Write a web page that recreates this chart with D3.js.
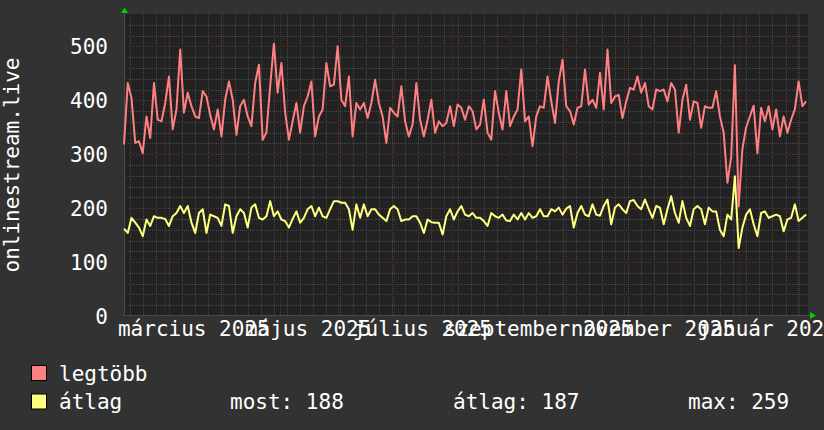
<!DOCTYPE html>
<html>
<head>
<meta charset="utf-8">
<script src="https://cdn.jsdelivr.net/npm/d3@7"></script>
<style>
  html, body { margin: 0; padding: 0; background: #323232; }
  svg { display: block; font-family: "DejaVu Sans Mono", monospace; }
</style>
</head>
<body>
<svg id="chart" width="824" height="430"></svg>
<script>
// one sample every 2 days, starting at the left edge of the graph
const startDay = "2025-02-07";
const endDay = "2026-02-07";
const stepDays = 2;

const legtobb = [
  318, 432, 404, 321, 324, 302, 370, 330, 432, 364, 361, 395, 444, 346, 383, 494, 377, 414, 389, 370,
  367, 417, 407, 373, 346, 383, 333, 401, 435, 401, 336, 389, 401, 370, 352, 432, 466,
  327, 340, 426, 505, 414, 469, 377, 327, 361, 395, 340, 389, 407, 435, 333, 370, 383, 469, 426,
  429, 500, 401, 389, 444, 333, 395, 383, 395, 367, 395, 438, 395, 370, 321, 386, 377, 370,
  426, 361, 333, 355, 432, 364, 333, 364, 401, 340, 361, 352, 358, 389, 352, 392, 386, 364, 389,
  380, 346, 355, 401, 340, 327, 417, 377, 346, 417, 352, 370, 383, 457, 361, 370, 315,
  370, 389, 386, 444, 398, 358, 435, 475, 389, 380, 355, 386, 389, 457, 392, 401, 386, 451, 383,
  494, 395, 407, 410, 367, 398, 423, 420, 444, 414, 432, 389, 383, 420, 417, 420, 398, 432,
  420, 340, 401, 429, 364, 398, 395, 349, 389, 386, 386, 417, 370, 340, 247, 295, 465, 203, 310,
  350, 370, 390, 302, 386, 361, 389, 346, 383, 333, 370, 340, 364, 383, 435, 389, 398
];

const atlag = [
  162, 154, 182, 173, 164, 148, 179, 167, 185, 182, 182, 180, 167, 185, 191, 204, 191, 204, 173, 154,
  191, 198, 154, 188, 185, 182, 167, 207, 204, 154, 185, 198, 191, 164, 201, 207, 182,
  179, 185, 213, 185, 194, 179, 176, 164, 180, 194, 173, 182, 198, 204, 185, 201, 185, 182, 198,
  213, 213, 210, 210, 198, 160, 207, 182, 207, 185, 198, 198, 188, 182, 176, 198, 204, 198,
  176, 179, 179, 185, 185, 173, 154, 179, 174, 173, 173, 151, 185, 198, 179, 194, 204, 188, 185,
  191, 182, 182, 176, 167, 191, 185, 182, 188, 177, 176, 188, 179, 191, 179, 191, 182,
  185, 198, 185, 185, 198, 194, 201, 188, 199, 204, 164, 191, 204, 188, 185, 207, 188, 186, 204,
  216, 170, 201, 207, 198, 191, 213, 215, 204, 198, 216, 198, 182, 204, 201, 170, 198, 222,
  191, 173, 213, 182, 167, 198, 204, 198, 170, 201, 194, 194, 160, 148, 188, 179, 259, 126, 164,
  188, 198, 170, 148, 191, 194, 182, 185, 188, 185, 157, 179, 182, 207, 176, 182, 188
];

const yTicks = [0, 100, 200, 300, 400, 500];
const labelMonths = ["2025-03-01", "2025-05-01", "2025-07-01", "2025-09-01", "2025-11-01", "2026-01-01"];
const monthLabels = ["március 2025", "május 2025", "július 2025", "szeptember 2025", "november 2025", "január 2026"];
const seriesNames = ["legtöbb", "átlag"];
const seriesColors = ["#ff8080", "#ffff80"];
const statLabels = ["most: 188", "átlag: 187", "max: 259"];
const yTitle = "onlinestream.live";

const svg = d3.select("#chart");
const parse = d3.utcParse("%Y-%m-%d");
const t0 = parse(startDay), t1 = parse(endDay);
const dates = legtobb.map((d, i) => d3.utcDay.offset(t0, i * stepDays));

const pLeft = 124, pRight = 808, pTop = 14, pBottom = 316;
const x = d3.scaleUtc().domain([t0, t1]).range([pLeft, pRight]);
const y = d3.scaleLinear().domain([0, 560]).range([pBottom, pTop]);

// background + canvas
svg.append("rect").attr("width", 824).attr("height", 430).attr("fill", "#323232");
svg.append("rect").attr("x", pLeft).attr("y", pTop)
   .attr("width", pRight - pLeft).attr("height", pBottom - pTop).attr("fill", "#222");

// grid: weeks / 20s dotted grey, months / 100s dotted dark red
const grid = svg.append("g").attr("shape-rendering", "crispEdges");
const minorY = d3.range(20, 560, 20).filter(v => v % 100 != 0);
grid.selectAll(".hmin").data(minorY).enter().append("line")
    .attr("x1", pLeft).attr("x2", pRight)
    .attr("y1", d => Math.round(y(d)) + 0.5).attr("y2", d => Math.round(y(d)) + 0.5)
    .attr("stroke", "#484848").attr("stroke-dasharray", "1,1");
grid.selectAll(".vmin").data(d3.utcMonday.range(t0, t1)).enter().append("line")
    .attr("y1", pTop).attr("y2", pBottom)
    .attr("x1", d => Math.round(x(d)) + 0.5).attr("x2", d => Math.round(x(d)) + 0.5)
    .attr("stroke", "#484848").attr("stroke-dasharray", "1,1");
grid.selectAll(".hmaj").data(yTicks.slice(1)).enter().append("line")
    .attr("x1", pLeft).attr("x2", pRight)
    .attr("y1", d => Math.round(y(d)) + 0.5).attr("y2", d => Math.round(y(d)) + 0.5)
    .attr("stroke", "#622c2c").attr("stroke-dasharray", "1,1");
grid.selectAll(".vmaj").data(d3.utcMonth.range(t0, t1)).enter().append("line")
    .attr("y1", pTop).attr("y2", pBottom)
    .attr("x1", d => Math.round(x(d)) + 0.5).attr("x2", d => Math.round(x(d)) + 0.5)
    .attr("stroke", "#552a2a").attr("stroke-dasharray", "1,1");

// axis lines + arrows
svg.append("line").attr("x1", pLeft + 0.5).attr("x2", pLeft + 0.5).attr("y1", pTop - 2).attr("y2", pBottom)
   .attr("stroke", "#4a4a4a");
svg.append("line").attr("x1", pLeft).attr("x2", pRight + 2).attr("y1", pBottom - 0.5).attr("y2", pBottom - 0.5)
   .attr("stroke", "#4a4a4a");
svg.append("path").attr("d", `M${pLeft - 3},13 L${pLeft + 0.5},7.5 L${pLeft + 4},13 Z`).attr("fill", "#00d000");
svg.append("path").attr("d", `M${pRight + 2},${pBottom - 4} L${pRight + 8},${pBottom - 0.5} L${pRight + 2},${pBottom + 3} Z`)
   .attr("fill", "#00d000");

// data
const line = d3.line().x((d, i) => x(dates[i])).y(d => y(d));
[legtobb, atlag].forEach((s, j) => {
  svg.append("path").datum(s).attr("d", line)
     .attr("fill", "none").attr("stroke", seriesColors[j])
     .attr("stroke-width", 2).attr("stroke-linejoin", "round");
});

// y axis labels
const yAxis = svg.append("g").attr("transform", `translate(${pLeft},0)`)
   .call(d3.axisLeft(y).tickValues(yTicks).tickSize(0).tickPadding(16));
yAxis.select(".domain").remove();
yAxis.selectAll("text").attr("fill", "#fff").attr("dy", "0.36em")
     .style("font-family", "DejaVu Sans Mono").style("font-size", "21px");

// x axis labels, centered half a month after the month start
const xAxis = svg.append("g").attr("transform", `translate(0,${pBottom})`)
   .call(d3.axisBottom(x)
     .tickValues(labelMonths.map(m => d3.utcDay.offset(parse(m), 15)))
     .tickFormat((d, i) => monthLabels[i])
     .tickSize(0).tickPadding(5));
xAxis.select(".domain").remove();
xAxis.selectAll("text").attr("fill", "#fff")
     .style("font-family", "DejaVu Sans Mono").style("font-size", "21px");

// y title
svg.append("text").attr("transform", "translate(18.5,165) rotate(-90)")
   .attr("text-anchor", "middle").attr("fill", "#fff").style("font-size", "21px")
   .text(yTitle);

// legend
const leg = svg.append("g").style("font-size", "21px").attr("fill", "#fff");
seriesNames.forEach((n, i) => {
  const by = 380.5 + i * 28.5;
  leg.append("rect").attr("x", 31.5).attr("y", by - 15).attr("width", 15).attr("height", 15)
     .attr("fill", seriesColors[i]).attr("stroke", "#000");
  leg.append("text").attr("x", 59).attr("y", by).text(n);
});
const statX = [230, 453, 688];
statLabels.forEach((s, i) => {
  leg.append("text").attr("x", statX[i]).attr("y", 409).text(s);
});
</script>
</body>
</html>
